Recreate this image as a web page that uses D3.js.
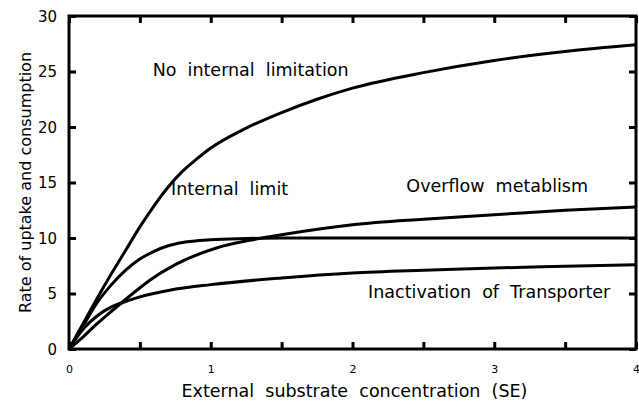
<!DOCTYPE html>
<html>
<head>
<meta charset="utf-8">
<script src="https://cdn.jsdelivr.net/npm/d3@7"></script>
<style>
  body { margin: 0; background: #fff; }
  svg text { font-family: "DejaVu Sans", sans-serif; fill: #000; }
</style>
</head>
<body>
<div id="chart"></div>
<script>
// x values (external substrate concentration) for each curve
const noLimitX = [0, 0.1, 0.2, 0.3, 0.4, 0.5, 0.6, 0.7, 0.8, 0.9, 1.0, 1.25, 1.5, 1.75, 2, 2.5, 3, 3.5, 4];
const noLimitY = [0, 2.3, 4.6, 6.8, 8.9, 11.0, 12.9, 14.6, 16.0, 17.1, 18.1, 19.9, 21.3, 22.5, 23.5, 24.9, 26.0, 26.8, 27.4];

const internalX = [0, 0.1, 0.2, 0.3, 0.4, 0.5, 0.6, 0.7, 0.8, 1.0, 1.25, 1.5, 2, 3, 4];
const internalY = [0, 2.1, 4.2, 5.8, 7.1, 8.1, 8.8, 9.3, 9.6, 9.85, 9.95, 10, 10, 10, 10];

const overflowX = [0, 0.1, 0.2, 0.3, 0.45, 0.57, 0.75, 1.04, 1.32, 1.5, 2, 2.5, 3, 3.5, 4];
const overflowY = [0, 1.1, 2.3, 3.4, 5.0, 6.2, 7.6, 9.1, 9.9, 10.3, 11.2, 11.7, 12.1, 12.5, 12.8];

const inactX = [0, 0.1, 0.2, 0.3, 0.36, 0.5, 0.71, 1.0, 1.5, 2, 2.5, 3, 3.5, 4];
const inactY = [0, 1.8, 3.0, 3.8, 4.1, 4.7, 5.3, 5.8, 6.4, 6.85, 7.1, 7.3, 7.45, 7.6];

const yTicks = [0, 5, 10, 15, 20, 25, 30];
const xTicks = [0, 0.5, 1, 1.5, 2, 2.5, 3, 3.5, 4];

const labels = [
  {text: "No  internal  limitation", x: 0.59, y: 24.6},
  {text: "Internal  limit", x: 0.72, y: 13.9},
  {text: "Overflow  metablism", x: 2.38, y: 14.15},
  {text: "Inactivation  of  Transporter", x: 2.11, y: 4.6}
];

const width = 639, height = 406;
const margin = {top: 16, right: 3, bottom: 57, left: 69};
const innerW = width - margin.left - margin.right;
const innerH = height - margin.top - margin.bottom;

const svg = d3.select("#chart").append("svg")
  .attr("width", width)
  .attr("height", height);

const g = svg.append("g").attr("transform", `translate(${margin.left},${margin.top})`);

const x = d3.scaleLinear().domain([0, 4]).range([0, innerW]);
const y = d3.scaleLinear().domain([0, 30]).range([innerH, 0]);

// axes with inward ticks on all four sides
const styleAxis = sel => {
  sel.select(".domain").remove();
  sel.selectAll(".tick line").attr("stroke", "#000").attr("stroke-width", 3);
};

g.append("g")
  .call(d3.axisLeft(y).tickValues(yTicks).tickSize(-7).tickPadding(12))
  .call(styleAxis)
  .selectAll("text").attr("font-size", 15).attr("dy", "0.36em");

g.append("g")
  .attr("transform", `translate(${innerW},0)`)
  .call(d3.axisRight(y).tickValues(yTicks).tickSize(-7).tickFormat(""))
  .call(styleAxis);

g.append("g")
  .attr("transform", `translate(0,${innerH})`)
  .call(d3.axisBottom(x).tickValues(xTicks).tickSize(-7).tickPadding(16)
    .tickFormat(d => Number.isInteger(d) ? d : ""))
  .call(styleAxis)
  .selectAll("text").attr("font-size", 11);

g.append("g")
  .call(d3.axisTop(x).tickValues(xTicks).tickSize(-7).tickFormat(""))
  .call(styleAxis);

// frame
g.append("rect")
  .attr("width", innerW)
  .attr("height", innerH)
  .attr("fill", "none")
  .attr("stroke", "#000")
  .attr("stroke-width", 3);

// curves
const line = d3.line()
  .x(d => x(d[0]))
  .y(d => y(d[1]))
  .curve(d3.curveMonotoneX);

const series = [
  d3.zip(noLimitX, noLimitY),
  d3.zip(internalX, internalY),
  d3.zip(overflowX, overflowY),
  d3.zip(inactX, inactY)
];

g.selectAll(".curve")
  .data(series)
  .enter()
  .append("path")
  .attr("class", "curve")
  .attr("d", line)
  .attr("fill", "none")
  .attr("stroke", "#000")
  .attr("stroke-width", 3)
  .attr("stroke-linejoin", "round");

// curve labels
g.selectAll(".lbl")
  .data(labels)
  .enter()
  .append("text")
  .attr("class", "lbl")
  .attr("x", d => x(d.x))
  .attr("y", d => y(d.y))
  .attr("font-size", 17.5)
  .style("white-space", "pre")
  .text(d => d.text);

// axis titles
svg.append("text")
  .attr("x", margin.left + innerW / 2 + 2)
  .attr("y", 397)
  .attr("text-anchor", "middle")
  .attr("font-size", 17.5)
  .style("white-space", "pre")
  .text("External  substrate  concentration  (SE)");

svg.append("text")
  .attr("transform", `translate(31,${margin.top + innerH / 2}) rotate(-90)`)
  .attr("text-anchor", "middle")
  .attr("font-size", 16)
  .text("Rate of uptake and consumption");
</script>
</body>
</html>
